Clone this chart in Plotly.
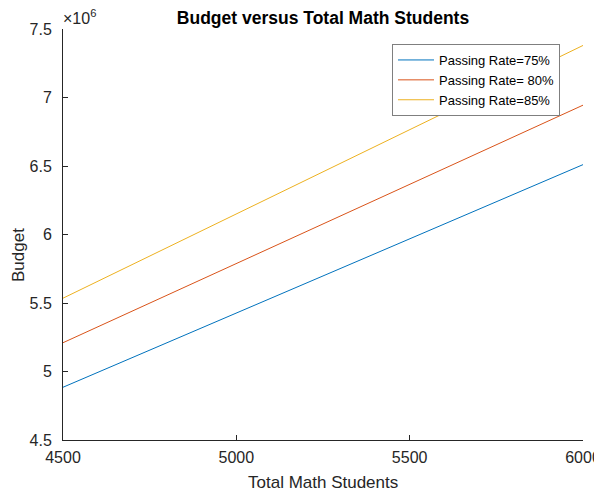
import plotly.graph_objects as go

students = [4500, 5000, 5500, 6000]
budget_75 = [4.885, 5.427, 5.968, 6.510]   # x10^6
budget_80 = [5.210, 5.788, 6.366, 6.944]
budget_85 = [5.535, 6.150, 6.765, 7.380]
series_names = ["Passing Rate=75%", "Passing Rate= 80%", "Passing Rate=85%"]
colors = ["#0072BD", "#D95319", "#EDB120"]
y_ticks = [4.5, 5, 5.5, 6, 6.5, 7, 7.5]
y_ticktext = ["4.5", "5", "5.5", "6", "6.5", "7", "7.5"]
x_ticks = [4500, 5000, 5500, 6000]

OFF = 8  # page body margin in the browser
W, H = 602 - OFF, 493 - OFF
L, T = 63 - OFF, 29 - OFF
R = W - (583 - OFF)
B = H - (440 - OFF)
pw, ph = W - L - R, H - T - B
X0, Y0 = 63, 440  # reference plot-area left / bottom


def px(xr):
    return (xr - X0) / pw


def py(yr):
    return (Y0 - yr) / ph


fig = go.Figure()
for name, vals, c in zip(series_names, [budget_75, budget_80, budget_85], colors):
    fig.add_trace(go.Scatter(x=students, y=vals, mode="lines", name=name,
                             line=dict(color=c, width=1)))

axis_col = "#262626"
FAM = "Liberation Sans, Arial, sans-serif"

fig.update_layout(
    width=W, height=H,
    margin=dict(l=L, r=R, t=T, b=B),
    paper_bgcolor="white", plot_bgcolor="white",
    font=dict(family=FAM, size=16, color=axis_col),
    title=dict(text="<b>Budget versus Total Math Students</b>",
               x=px(323), xanchor="center", xref="paper",
               y=1 - (18 - OFF) / H, yanchor="middle",
               font=dict(family=FAM, size=17.5, color="black")),
    xaxis=dict(range=[4500, 6000], tickvals=x_ticks, ticks="inside", ticklen=5,
               tickcolor=axis_col, showline=True, linecolor=axis_col, linewidth=1,
               showgrid=False, zeroline=False, automargin=False,
               tickfont=dict(size=16, color=axis_col), ticklabelstandoff=3),
    yaxis=dict(range=[4.5, 7.5], tickvals=y_ticks, ticktext=y_ticktext,
               ticks="inside", ticklen=5, tickcolor=axis_col,
               showline=True, linecolor=axis_col, linewidth=1,
               showgrid=False, zeroline=False, automargin=False,
               tickfont=dict(size=16, color=axis_col), ticklabelstandoff=7),
    legend=dict(x=px(392), y=py(44), xanchor="left", yanchor="top",
                bgcolor="white", bordercolor="#7f7f7f", borderwidth=1,
                font=dict(family=FAM, size=13, color="black"), tracegroupgap=0,
                itemwidth=36),
    showlegend=True,
)

fig.add_annotation(text="Total Math Students", xref="paper", yref="paper",
                   x=px(323), y=py(482), xanchor="center", yanchor="middle",
                   showarrow=False, font=dict(family=FAM, size=17, color=axis_col))
fig.add_annotation(text="Budget", xref="paper", yref="paper", textangle=-90,
                   x=px(18), y=py(255), xanchor="center", yanchor="middle",
                   showarrow=False, font=dict(family=FAM, size=17, color=axis_col))
fig.add_annotation(text="×10<sup>6</sup>", xref="paper", yref="paper",
                   x=0.0, y=1.0, xanchor="left", yanchor="bottom",
                   showarrow=False, yshift=0, xshift=-2,
                   font=dict(family=FAM, size=16, color=axis_col))

fig.write_html("out.html")
